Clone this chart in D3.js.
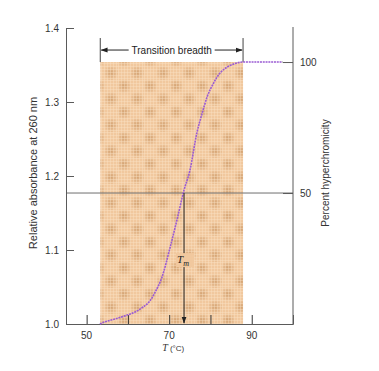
<!DOCTYPE html>
<html>
<head>
<meta charset="utf-8">
<script src="https://cdn.jsdelivr.net/npm/d3@7"></script>
<style>
  body { margin: 0; background: #fff; }
  svg { display: block; }
  .tick-label { font-family: "Liberation Sans", Arial, sans-serif; font-size: 10px; fill: #333; }
</style>
</head>
<body>
<div id="canvas"></div>
<script>
// melting curve: temperature (°C) vs relative absorbance at 260 nm
var temps = [53.2, 54.0, 57.0, 59.8, 62.0, 63.7, 65.3, 66.6, 68.3, 70.2, 71.9, 73.6, 75.0, 76.7, 78.0, 79.2, 80.8, 82.3, 84.0, 85.5, 87.9, 92.0, 97.3];
var absorb = [1.000, 1.002, 1.007, 1.012, 1.017, 1.023, 1.031, 1.043, 1.064, 1.103, 1.141, 1.181, 1.207, 1.258, 1.285, 1.307, 1.326, 1.339, 1.347, 1.351, 1.354, 1.354, 1.354];

var leftTicks = [1.0, 1.1, 1.2, 1.3, 1.4];
var bottomTicks = [50, 60, 70, 80, 90];
var bottomLabels = [50, 70, 90];
var rightTicks = [50, 100];

var breadthStart = 53.3, breadthEnd = 87.9;   // transition breadth (°C)
var tm = 73.6;                                  // melting temperature
var absMin = 1.0, absMax = 1.354;               // 0% and 100% hyperchromicity

var winWidth = 379, winHeight = 371;
var margin = { top: 28, right: 86, bottom: 47, left: 66 },
  width = winWidth - margin.left - margin.right,
  height = winHeight - margin.top - margin.bottom;

var svg = d3.select("#canvas").append("svg")
  .attr("width", winWidth)
  .attr("height", winHeight);

var defs = svg.append("defs");

// textured tan fill for the transition region
var pat = defs.append("pattern")
  .attr("id", "tan")
  .attr("patternUnits", "userSpaceOnUse")
  .attr("width", 26)
  .attr("height", 26);
var blot = defs.append("radialGradient").attr("id", "blot");
blot.append("stop").attr("offset", "0%").attr("stop-color", "#cf9d6c").attr("stop-opacity", 0.85);
blot.append("stop").attr("offset", "100%").attr("stop-color", "#cf9d6c").attr("stop-opacity", 0);
pat.append("rect").attr("width", 26).attr("height", 26).attr("fill", "#f1c89e");
[[6, 6], [19, 19], [19, -7], [-7, 19], [32, 19], [19, 32]].forEach(function(c) {
  pat.append("circle").attr("cx", c[0]).attr("cy", c[1]).attr("r", 7.5).attr("fill", "url(#blot)");
});
for (var i = 0; i < 26; i += 3) {
  pat.append("line").attr("x1", i + 0.5).attr("x2", i + 0.5).attr("y1", 0).attr("y2", 26)
    .attr("stroke", "#fbe2c6").attr("stroke-width", 0.6).attr("stroke-opacity", 0.7);
  pat.append("line").attr("y1", i + 0.5).attr("y2", i + 0.5).attr("x1", 0).attr("x2", 26)
    .attr("stroke", "#fbe2c6").attr("stroke-width", 0.6).attr("stroke-opacity", 0.7);
}

var marker = defs.append("marker")
  .attr("id", "arrow")
  .attr("viewBox", "0 0 10 10")
  .attr("refX", 9).attr("refY", 5)
  .attr("markerWidth", 7).attr("markerHeight", 7)
  .attr("markerUnits", "userSpaceOnUse")
  .attr("orient", "auto-start-reverse");
marker.append("path").attr("d", "M0,1.5 L10,5 L0,8.5 Z").attr("fill", "#222");

var g = svg.append("g")
  .attr("transform", "translate(" + margin.left + "," + margin.top + ")");

var x = d3.scaleLinear().domain([45, 100]).range([0, width]);
var y = d3.scaleLinear().domain([1.0, 1.4]).range([height, 0]);
var yPct = d3.scaleLinear().domain([0, 100]).range([y(absMin), y(absMax)]);

// shaded transition band
g.append("rect")
  .attr("x", x(breadthStart))
  .attr("y", y(absMax))
  .attr("width", x(breadthEnd) - x(breadthStart))
  .attr("height", y(absMin) - y(absMax))
  .attr("fill", "url(#tan)");

// 50% line
g.append("line")
  .attr("x1", 0).attr("x2", width)
  .attr("y1", yPct(50)).attr("y2", yPct(50))
  .attr("stroke", "#6f6f6f").attr("stroke-width", 1);

// axes
var axisColor = "#5a5a5a";
var yAxis = d3.axisRight(y).tickValues(leftTicks).tickSize(8).tickFormat("");
var gY = g.append("g").call(yAxis);
var xAxis = d3.axisTop(x).tickValues(bottomTicks).tickSize(9).tickFormat("");
var gX = g.append("g").attr("transform", "translate(0," + height + ")").call(xAxis);
var rAxis = d3.axisLeft(yPct).tickValues(rightTicks).tickSize(10).tickFormat("");
var gR = g.append("g").attr("transform", "translate(" + width + ",0)").call(rAxis);
[gY, gX, gR].forEach(function(a) {
  a.select(".domain").attr("stroke", axisColor);
  a.selectAll(".tick line").attr("stroke", axisColor);
});
gX.selectAll(".tick line").attr("stroke", "#333");
gR.select(".domain").attr("d", "M0,-1V" + height);

// tick labels
g.selectAll(".ylab").data(leftTicks).enter().append("text")
  .attr("class", "tick-label")
  .attr("x", -7).attr("y", function(d) { return y(d); }).attr("dy", "0.35em")
  .attr("text-anchor", "end")
  .text(function(d) { return d3.format(".1f")(d); });
g.selectAll(".xlab").data(bottomLabels).enter().append("text")
  .attr("class", "tick-label")
  .attr("x", function(d) { return x(d); }).attr("y", height + 15)
  .attr("text-anchor", "middle")
  .text(function(d) { return d; });
g.selectAll(".rlab").data(rightTicks).enter().append("text")
  .attr("class", "tick-label")
  .attr("x", width + 7).attr("y", function(d) { return yPct(d); }).attr("dy", "0.35em")
  .text(function(d) { return d; });

// axis titles
g.append("text")
  .attr("transform", "translate(-29," + (y(1.2) - 3) + ") rotate(-90)")
  .attr("text-anchor", "middle")
  .style("font-family", "Liberation Sans, Arial, sans-serif")
  .style("font-size", "11px").style("fill", "#333")
  .text("Relative absorbance at 260 nm");
g.append("text")
  .attr("transform", "translate(" + (width + 36) + "," + (y(1.2) - 3) + ") rotate(-90)")
  .attr("text-anchor", "middle")
  .style("font-family", "Liberation Sans, Arial, sans-serif")
  .style("font-size", "10px").style("fill", "#333")
  .text("Percent hyperchromicity");
var xt = g.append("text")
  .attr("x", x(70) + 4).attr("y", height + 27)
  .attr("text-anchor", "middle")
  .style("font-family", "Liberation Serif, Times New Roman, serif")
  .style("font-size", "10px").style("fill", "#333");
xt.append("tspan").style("font-style", "italic").text("T");
xt.append("tspan").style("font-family", "Liberation Sans, Arial, sans-serif").style("font-size", "8px").text(" (°C)");

// transition breadth bracket
var bTop = y(absMax) - 24, bY = y(absMax) - 12;
[breadthStart, breadthEnd].forEach(function(t) {
  g.append("line")
    .attr("x1", x(t)).attr("x2", x(t))
    .attr("y1", bTop).attr("y2", y(absMax))
    .attr("stroke", "#444").attr("stroke-width", 1);
});
var bMid = (x(breadthStart) + x(breadthEnd)) / 2;
g.append("line")
  .attr("x1", bMid - 43).attr("x2", x(breadthStart) + 1)
  .attr("y1", bY).attr("y2", bY)
  .attr("stroke", "#222").attr("marker-end", "url(#arrow)");
g.append("line")
  .attr("x1", bMid + 43).attr("x2", x(breadthEnd) - 1)
  .attr("y1", bY).attr("y2", bY)
  .attr("stroke", "#222").attr("marker-end", "url(#arrow)");
g.append("text")
  .attr("x", bMid).attr("y", bY).attr("dy", "0.35em")
  .attr("text-anchor", "middle")
  .style("font-family", "Liberation Sans, Arial, sans-serif")
  .style("font-size", "10px").style("fill", "#222")
  .text("Transition breadth");

// melting curve
var pts = temps.map(function(t, i) { return { t: t, a: absorb[i] }; });
var line = d3.line()
  .x(function(d) { return x(d.t); })
  .y(function(d) { return y(d.a); })
  .curve(d3.curveMonotoneX);
g.append("path")
  .datum(pts)
  .attr("d", line)
  .attr("fill", "none")
  .attr("stroke", "#9a5bd3")
  .attr("stroke-width", 1.6)
  .attr("stroke-dasharray", "2,0.8");

// plateau continuation to right axis tick
g.append("line")
  .attr("x1", x(temps[temps.length - 1])).attr("x2", width - 10)
  .attr("y1", yPct(100)).attr("y2", yPct(100))
  .attr("stroke", "#9a9a9a").attr("stroke-width", 1);

// Tm arrow
g.append("line")
  .attr("x1", x(tm)).attr("x2", x(tm))
  .attr("y1", yPct(50)).attr("y2", height - 1)
  .attr("stroke", "#222").attr("stroke-width", 1)
  .attr("marker-end", "url(#arrow)");
g.append("rect")
  .attr("x", x(tm) - 8).attr("y", y(1.085) - 8)
  .attr("width", 18).attr("height", 14)
  .attr("fill", "#f1c89e");
var tmt = g.append("text")
  .attr("x", x(tm) - 7).attr("y", y(1.085) + 2)
  .style("font-family", "Liberation Serif, Times New Roman, serif")
  .style("font-style", "italic")
  .style("font-size", "11px").style("fill", "#222");
tmt.append("tspan").text("T");
tmt.append("tspan").attr("dy", 3).style("font-size", "8px").text("m");
</script>
</body>
</html>
